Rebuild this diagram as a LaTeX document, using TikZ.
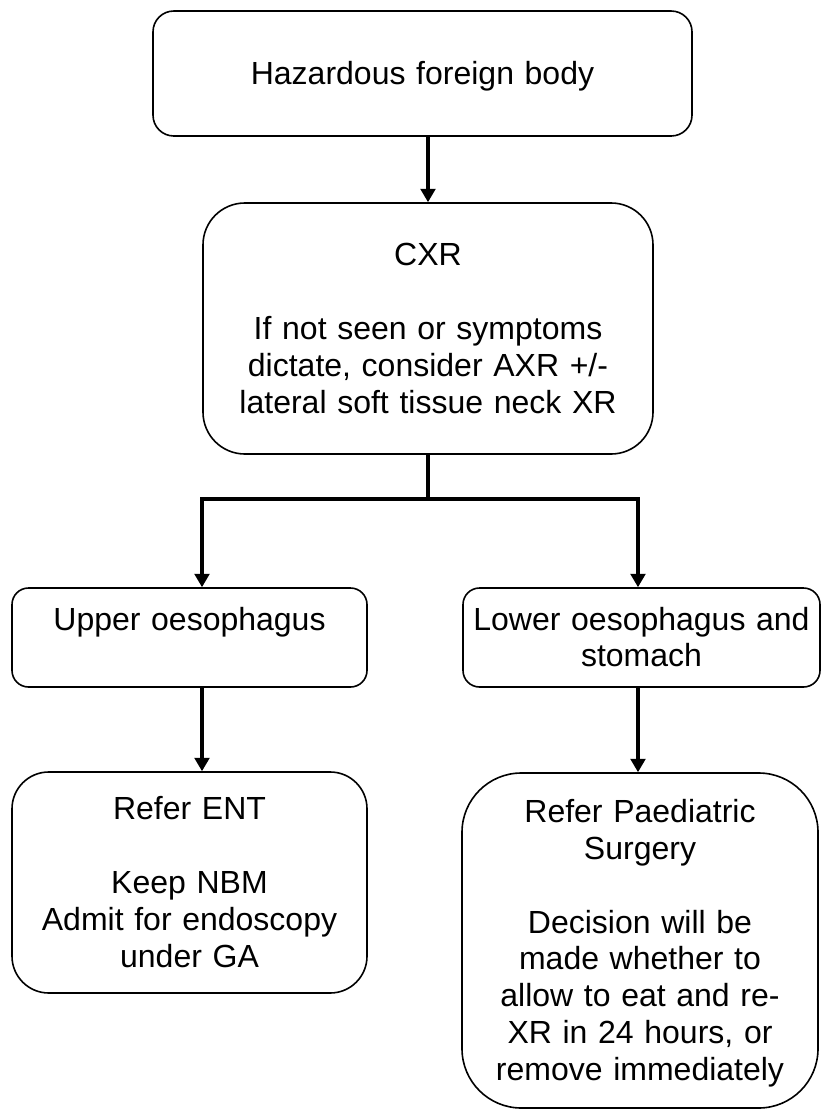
\documentclass[tikz,border=0pt]{standalone}
\usepackage{fontspec}
\setmainfont{Liberation Sans}
\usetikzlibrary{arrows.meta}
\newcommand\st{\rule[-5.5pt]{0pt}{27.6pt}}
\begin{document}
\begin{tikzpicture}[x=0.75pt,y=-0.75pt,
  box/.style={draw, line width=1.2pt, inner sep=0pt, align=center,
    font=\fontsize{24}{27.6}\selectfont},
  line/.style={line width=2.3pt},
  arr/.style={line width=2.3pt, -{Triangle[width=11pt,length=10pt]}}]
\useasboundingbox (0,0) rectangle (821,1110);

\node[box, rounded corners=15.6pt, minimum width=404.25pt, minimum height=93.75pt, text width=395pt]
  (top) at (422.5,73.5) {\st Hazardous foreign body};

\node[box, rounded corners=31.4pt, minimum width=337.5pt, minimum height=188.25pt, text width=330pt]
  (cxr) at (428,328.5) {\st CXR\\\st\\\st If not seen or symptoms\\\st dictate, consider AXR +/-\\\st lateral soft tissue neck XR};

\node[box, rounded corners=12.4pt, minimum width=266.25pt, minimum height=74.25pt, text width=262pt]
  (upper) at (189.5,637.5) {\st Upper oesophagus\\\st};

\node[box, rounded corners=12.4pt, minimum width=267.75pt, minimum height=74.25pt, text width=264pt]
  (lower) at (641.5,637.5) {\st Lower oesophagus and\\\st stomach};

\node[box, rounded corners=27.6pt, minimum width=266.25pt, minimum height=165.75pt, text width=262pt]
  (ent) at (189.5,882.5) {\st Refer ENT\\\st\\\st Keep NBM\\\st Admit for endoscopy\\\st under GA};

\node[box, rounded corners=44.5pt, minimum width=267pt, minimum height=251.25pt, text width=262pt]
  (paed) at (640,940.5) {\st Refer Paediatric\\\st Surgery\\\st\\\st Decision will be\\\st made whether to\\\st allow to eat and re-\\\st XR in 24 hours, or\\\st remove immediately};

\coordinate (jl) at (202,499);
\coordinate (jr) at (638,499);

\draw[arr] (cxr.north |- top.south) -- (cxr.north);
\draw[line] (cxr.south) -- (cxr.south |- jl);
\draw[line, line cap=rect] (jl) -- (jr);
\draw[arr] (jl) -- (jl |- upper.north);
\draw[arr] (jr) -- (jr |- lower.north);
\draw[arr] (jl |- upper.south) -- (jl |- ent.north);
\draw[arr] (jr |- lower.south) -- (jr |- paed.north);
\end{tikzpicture}
\end{document}
